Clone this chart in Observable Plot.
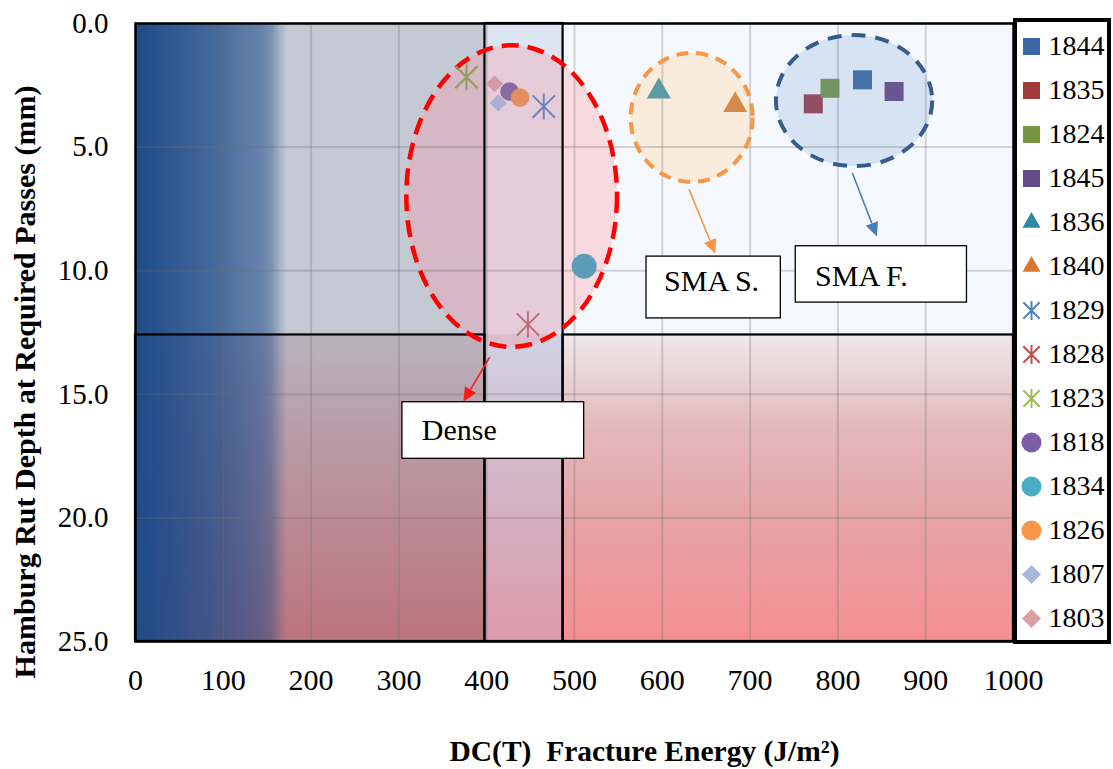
<!DOCTYPE html>
<html>
<head>
<meta charset="utf-8">
<script src="https://cdn.jsdelivr.net/npm/d3@7"></script>
<script src="https://cdn.jsdelivr.net/npm/@observablehq/plot@0.6"></script>
<style>
  html, body { margin: 0; padding: 0; background: #fff; }
  #wrap { position: relative; width: 1113px; height: 769px; font-family: "Liberation Serif", "Times New Roman", serif; overflow: hidden; }
  #chart { position: absolute; left: 0; top: 0; }
  #legend { position: absolute; left: 1013px; top: 18px; width: 98px; height: 626px; border: 4px solid #000; box-sizing: border-box; background: #fff; }
  #ytitle { position: absolute; left: 25px; top: 382px; transform: translate(-50%, -50%) rotate(-90deg); white-space: nowrap;
            font: bold 30px "Liberation Serif", "Times New Roman", serif; color: #000; line-height: 1; }
</style>
</head>
<body>
<div id="wrap"><div id="chart"></div><div id="legend"></div><div id="ytitle">Hamburg Rut Depth at Required Passes (mm)</div></div>
<script>
// ---------------- DATA ----------------
const series   = ["1844","1835","1824","1845","1836","1840","1829","1828","1823","1818","1834","1826","1807","1803"];
const energy   = [828, 772, 791, 864, 596, 683, 465, 447, 377, 426, 511, 438, 413, 409];   // J/m2
const rutDepth = [2.28, 3.25, 2.62, 2.75, 2.75, 3.30, 3.36, 12.18, 2.17, 2.75, 9.82, 3.00, 3.22, 2.44]; // mm
const shapes   = ["square","square","square","square","triangle","triangle","asterisk","asterisk","asterisk","circle","circle","circle","diamond","diamond"];

const xTicks = [0, 100, 200, 300, 400, 500, 600, 700, 800, 900, 1000];
const yTicks = [0, 5, 10, 15, 20, 25];

// region thresholds
const energyBands = [0, 398, 487, 1000];
const rutSplit = 12.6;

// annotation groups (ellipses, label boxes, arrows) in data units
const groupNames = ["Dense", "SMA S.", "SMA F."];
const groupCx = [429, 634, 819];
const groupCy = [7.0, 3.82, 3.14];
const groupRx = [120, 69.5, 89];
const groupRy = [6.1, 2.61, 2.65];
const boxX1 = [304, 582, 752];
const boxX2 = [511, 735, 947];
const boxY1 = [15.32, 9.43, 9.01];
const boxY2 = [17.61, 11.93, 11.29];
const labelX = [326, 602, 774];
const labelY = [16.46, 10.45, 10.22];
const arrowX1 = [404, 631, 817];
const arrowY1 = [13.52, 6.73, 6.06];
const arrowX2 = [374, 661, 845];
const arrowY2 = [15.32, 9.32, 8.64];

const xTitle = "DC(T)\u00a0 Fracture Energy (J/m\u00b2)";

// ---------------- STYLES ----------------
const chartColors  = ["#4571a7","#8f4e5f","#74955f","#695690","#5c9aa6","#d58a4a","#6c86c2","#c0707a","#8f9c5c","#8a6aa0","#5b9db7","#e18f5e","#a9aed4","#d49aa6"];
const legendColors = ["#3a66a4","#a13c3c","#78963f","#634c86","#2e8aa3","#d8782e","#4f81bd","#c0504d","#9bbb59","#7b5ea3","#4bacc6","#f79646","#a7b9da","#d9a1a3"];
const chartR = {square: 9.5, triangle: 12, asterisk: 13, circle: 9.3, diamond: 8.5};
const bigR = {"1834": 12.5};
const legendR = {square: 8.5, triangle: 9, asterisk: 9.5, circle: 10, diamond: 9.5};
const groupFill = ["#ff8fa0", "#fbe3c8", "#c9daee"];
const groupFillOpacity = [0.3, 0.6, 0.7];
const groupStroke = ["#ff0000", "#f79646", "#365c8d"];
const groupDash = ["17 9", "12 8", "14 10"];
const arrowColor = ["#ff1a1a", "#f79646", "#4a7ebb"];

// custom symbols: r = half extent
const rad = s => Math.sqrt(s / Math.PI);
const SYM = {
  square:   {draw(c, s) { const r = rad(s); c.rect(-r, -r, 2 * r, 2 * r); }},
  diamond:  {draw(c, s) { const r = rad(s); c.moveTo(0, -r); c.lineTo(r, 0); c.lineTo(0, r); c.lineTo(-r, 0); c.closePath(); }},
  triangle: {draw(c, s) { const r = rad(s), h = r * Math.sqrt(3); c.moveTo(0, -2 * h / 3); c.lineTo(r, h / 3); c.lineTo(-r, h / 3); c.closePath(); }},
  circle:   {draw(c, s) { const r = rad(s); c.moveTo(r, 0); c.arc(0, 0, r, 0, 2 * Math.PI); }},
  asterisk: {draw(c, s) { const r = rad(s), k = r * 0.86; c.moveTo(0, -r); c.lineTo(0, r); c.moveTo(-k, -k); c.lineTo(k, k); c.moveTo(-k, k); c.lineTo(k, -k); }}
};

// ---------------- TABLES ----------------
const points = series.map((name, i) => ({name, energy: energy[i], rut: rutDepth[i], shape: shapes[i], color: chartColors[i], lcolor: legendColors[i]}));
const groups = groupNames.map((name, i) => ({name, cx: groupCx[i], cy: groupCy[i], rx: groupRx[i], ry: groupRy[i],
  bx1: boxX1[i], bx2: boxX2[i], by1: boxY1[i], by2: boxY2[i], lx: labelX[i], ly: labelY[i],
  ax1: arrowX1[i], ay1: arrowY1[i], ax2: arrowX2[i], ay2: arrowY2[i]}));

const [e0, e1, e2, e3] = energyBands;
const yMax = yTicks[yTicks.length - 1];
const regions = [
  {x1: e0, x2: e1, y1: 0, y2: rutSplit, fill: "#c3cad4"},
  {x1: e0, x2: e1, y1: rutSplit, y2: yMax, fill: "url(#gBL)"},
  {x1: e1, x2: e2, y1: 0, y2: yMax, fill: "url(#gMid)"},
  {x1: e2, x2: e3, y1: 0, y2: rutSplit, fill: "#f5f9fd"},
  {x1: e2, x2: e3, y1: rutSplit, y2: yMax, fill: "url(#gBR)"},
  {x1: e0, x2: e1, y1: 0, y2: yMax, fill: "url(#gBlue)"}
];
const outlines = [
  {x1: e0, x2: e1, y1: rutSplit, y2: yMax},
  {x1: e2, x2: e3, y1: rutSplit, y2: yMax},
  {x1: e1, x2: e2, y1: 0, y2: yMax}
];

// custom layers using Plot's scales
function ellipseFills(index, scales) {
  const {x, y} = scales;
  const g = d3.create("svg:g");
  groups.forEach((d, i) => {
    g.append("ellipse")
      .attr("cx", x(d.cx)).attr("cy", y(d.cy))
      .attr("rx", Math.abs(x(d.cx + d.rx) - x(d.cx))).attr("ry", Math.abs(y(d.cy + d.ry) - y(d.cy)))
      .attr("fill", groupFill[i]).attr("fill-opacity", groupFillOpacity[i]);
  });
  return g.node();
}
function ellipseStrokes(index, scales) {
  const {x, y} = scales;
  const g = d3.create("svg:g");
  groups.forEach((d, i) => {
    g.append("ellipse")
      .attr("cx", x(d.cx)).attr("cy", y(d.cy))
      .attr("rx", Math.abs(x(d.cx + d.rx) - x(d.cx))).attr("ry", Math.abs(y(d.cy + d.ry) - y(d.cy)))
      .attr("fill", "none").attr("stroke", groupStroke[i]).attr("stroke-width", i === 0 ? 4.5 : 4)
      .attr("stroke-dasharray", groupDash[i]);
  });
  return g.node();
}
function arrows(index, scales) {
  const {x, y} = scales;
  const g = d3.create("svg:g");
  groups.forEach((d, i) => {
    const X1 = x(d.ax1), Y1 = y(d.ay1), X2 = x(d.ax2), Y2 = y(d.ay2);
    const a = Math.atan2(Y2 - Y1, X2 - X1), L = 14, w = 6.5;
    const bx = X2 - L * Math.cos(a), by = Y2 - L * Math.sin(a);
    g.append("line").attr("x1", X1).attr("y1", Y1).attr("x2", bx).attr("y2", by)
      .attr("stroke", arrowColor[i]).attr("stroke-width", 1.6);
    g.append("path")
      .attr("d", `M${X2},${Y2}L${bx + w * Math.sin(a)},${by - w * Math.cos(a)}L${bx - w * Math.sin(a)},${by + w * Math.cos(a)}Z`)
      .attr("fill", arrowColor[i]);
  });
  return g.node();
}

const pointMarks = points.map(p => {
  const r = bigR[p.name] || chartR[p.shape];
  return p.shape === "asterisk"
    ? Plot.dot([p], {x: "energy", y: "rut", symbol: SYM.asterisk, r, stroke: p.color, strokeWidth: 2, fill: "none"})
    : Plot.dot([p], {x: "energy", y: "rut", symbol: SYM[p.shape], r, fill: p.color, stroke: "none"});
});

const chart = Plot.plot({
  width: 1113,
  height: 769,
  marginLeft: 135,
  marginRight: 100,
  marginTop: 23,
  marginBottom: 128,
  style: {fontFamily: "'Liberation Serif', 'Times New Roman', serif", fontSize: "28px", background: "#fff", overflow: "visible"},
  x: {domain: [0, 1000], label: null},
  y: {domain: [0, 25], reverse: true, label: null},
  marks: [
    Plot.rect(regions, {x1: "x1", x2: "x2", y1: "y1", y2: "y2", fill: d => d.fill}),
    ellipseFills,
    Plot.ruleX(xTicks, {stroke: "#6f6f6f", strokeOpacity: 0.28, strokeWidth: 2}),
    Plot.ruleY(yTicks, {stroke: "#6f6f6f", strokeOpacity: 0.28, strokeWidth: 2}),
    Plot.rect(outlines, {x1: "x1", x2: "x2", y1: "y1", y2: "y2", fill: "none", stroke: "#000", strokeWidth: 2.2}),
    Plot.frame({stroke: "#000", strokeWidth: 2.5}),
    ellipseStrokes,
    ...pointMarks,
    arrows,
    Plot.rect(groups, {x1: "bx1", x2: "bx2", y1: "by1", y2: "by2", fill: "#fff", stroke: "#000", strokeWidth: 1.3}),
    Plot.text(groups, {x: "lx", y: "ly", text: "name", textAnchor: "start", lineAnchor: "middle", fontSize: 30, fill: "#000"}),
    Plot.axisX(xTicks, {tickSize: 0, tickPadding: 27, fontSize: 30, tickFormat: d => String(d), fill: "#000"}),
    Plot.axisY(yTicks, {tickSize: 0, tickPadding: 27, fontSize: 29, tickFormat: d3.format(".1f"), fill: "#000"}),
    Plot.text([xTitle], {frameAnchor: "bottom", dx: 70, dy: 110, text: d => d, fontSize: 29.5, fontWeight: "bold", lineAnchor: "middle", fill: "#000"})
  ]
});

d3.select(chart).insert("defs", ":first-child").html(`
  <linearGradient id="gBlue" x1="0" x2="1" y1="0" y2="0">
    <stop offset="0" stop-color="#1e4a89" stop-opacity="1"/>
    <stop offset="0.125" stop-color="#1e4a89" stop-opacity="0.87"/>
    <stop offset="0.25" stop-color="#1e4a89" stop-opacity="0.73"/>
    <stop offset="0.365" stop-color="#1e4a89" stop-opacity="0.55"/>
    <stop offset="0.39" stop-color="#1e4a89" stop-opacity="0.45"/>
    <stop offset="0.415" stop-color="#1e4a89" stop-opacity="0.18"/>
    <stop offset="0.435" stop-color="#1e4a89" stop-opacity="0"/>
    <stop offset="1" stop-color="#1e4a89" stop-opacity="0"/>
  </linearGradient>
  <linearGradient id="gBL" x1="0" x2="0" y1="0" y2="1">
    <stop offset="0" stop-color="#b9b3be"/>
    <stop offset="0.35" stop-color="#b99aa5"/>
    <stop offset="1" stop-color="#bd747b"/>
  </linearGradient>
  <linearGradient id="gMid" x1="0" x2="0" y1="0" y2="1">
    <stop offset="0" stop-color="#dbe5f2"/>
    <stop offset="0.504" stop-color="#dbe5f2"/>
    <stop offset="0.504" stop-color="#d0d3e3"/>
    <stop offset="0.75" stop-color="#d4b5c5"/>
    <stop offset="1" stop-color="#dc9aab"/>
  </linearGradient>
  <linearGradient id="gBR" x1="0" x2="0" y1="0" y2="1">
    <stop offset="0" stop-color="#efe8ec"/>
    <stop offset="0.3" stop-color="#e3b9bc"/>
    <stop offset="0.6" stop-color="#e6a3a5"/>
    <stop offset="1" stop-color="#f58f92"/>
  </linearGradient>
`);
document.getElementById("chart").appendChild(chart);

// ---------------- LEGEND ----------------
const legendMarks = [];
points.forEach(p => {
  const r = legendR[p.shape];
  legendMarks.push(p.shape === "asterisk"
    ? Plot.dot([p], {y: "name", frameAnchor: "left", dx: 14, symbol: SYM.asterisk, r, stroke: p.lcolor, strokeWidth: 2, fill: "none"})
    : Plot.dot([p], {y: "name", frameAnchor: "left", dx: 14, symbol: SYM[p.shape], r, fill: p.lcolor, stroke: "none"}));
});
legendMarks.push(Plot.text(points, {y: "name", text: "name", frameAnchor: "left", dx: 31, textAnchor: "start", lineAnchor: "middle", fontSize: 28, fill: "#000"}));

const legend = Plot.plot({
  width: 90,
  height: 618,
  marginLeft: 0, marginRight: 0, marginTop: 22, marginBottom: 20,
  style: {fontFamily: "'Liberation Serif', 'Times New Roman', serif", fontSize: "28px", background: "#fff", overflow: "visible"},
  y: {type: "point", domain: series, padding: 0, axis: null},
  marks: legendMarks
});
document.getElementById("legend").appendChild(legend);
</script>
</body>
</html>
